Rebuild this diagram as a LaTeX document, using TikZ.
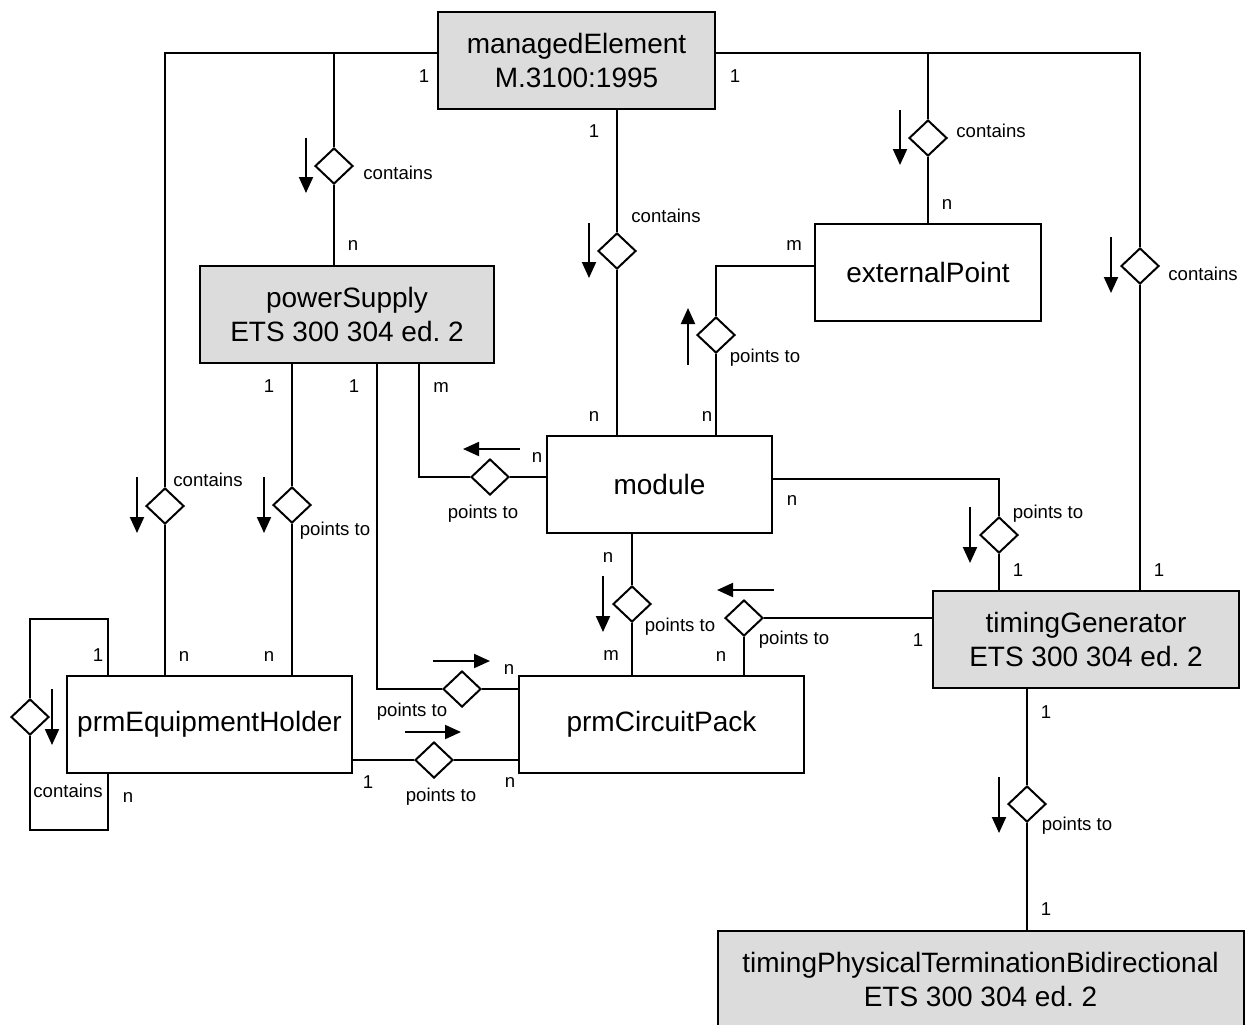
\documentclass[tikz,border=0pt]{standalone}
\usepackage{fontspec}
\setmainfont{Liberation Sans}
\usetikzlibrary{shapes.geometric,arrows.meta}
\definecolor{boxgray}{RGB}{220,220,220}
\begin{document}
\begin{tikzpicture}[x=0.5pt,y=-0.5pt,
  line width=1pt,
  entity/.style={draw,minimum height=48.5pt,inner sep=0pt,align=center,
    font=\fontsize{14pt}{17pt}\selectfont},
  stdentity/.style={entity,fill=boxgray},
  rel/.style={shape=diamond,draw,fill=white,minimum width=19pt,
    minimum height=18pt,inner sep=0pt},
  lbl/.style={font=\fontsize{9.3pt}{11pt}\selectfont,inner sep=0pt},
  dirarrow/.style={-{Triangle[length=8pt,width=7pt]}},
]
\useasboundingbox (0,0) rectangle (1246,1024);
\clip (0,0) rectangle (1246,1024);
\fill[white] (0,0) rectangle (1246,1024);

% ---- managed object classes ----
\node[stdentity,minimum width=138.5pt] (ME) at (576.5,60.5) {managedElement\\M.3100:1995};
\node[stdentity,minimum width=147pt] (PS) at (347,314.5) {powerSupply\\ETS 300 304 ed.\ 2};
\node[entity,minimum width=113pt] (EP) at (928,272.5) {externalPoint};
\node[entity,minimum width=112.5pt] (MOD) at (659.5,484.5) {module};
\node[stdentity,minimum width=153pt] (TG) at (1086,639.5) {timingGenerator\\ETS 300 304 ed.\ 2};
\node[entity,minimum width=142.5pt] (PEH) at (209.5,724.5) {prmEquipmentHolder};
\node[entity,minimum width=142.5pt] (PCP) at (661.5,724.5) {prmCircuitPack};
\node[stdentity,minimum width=263pt] (TPT) at (980.5,979.5) {timingPhysicalTerminationBidirectional\\ETS 300 304 ed.\ 2};

% ---- relationship diamonds ----
\node[rel] (dPS) at (334,166) {};
\node[rel] (dEP) at (928,138) {};
\node[rel] (dTG) at (1140,266) {};
\node[rel] (dMOD) at (617,251) {};
\node[rel] (dMEP) at (716,335) {};
\node[rel] (dMPS) at (490,477) {};
\node[rel] (dMTG) at (999,535) {};
\node[rel] (dMPC) at (632,604) {};
\node[rel] (dTPC) at (744,618) {};
\node[rel] (dPSPC) at (462,689) {};
\node[rel] (dPEPC) at (434,760) {};
\node[rel] (dSelf) at (30,717) {};
\node[rel] (dPSPE) at (292,505) {};
\node[rel] (dPEH) at (165,506) {};
\node[rel] (dTPT) at (1027,804) {};

% ---- bends of the connectors ----
\coordinate (jL) at (165,53);
\coordinate (jPS) at (334,53);
\coordinate (jEP) at (928,53);
\coordinate (jR) at (1140,53);
\coordinate (kEP) at (716,266);
\coordinate (kPS) at (419,477);
\coordinate (kTG) at (999,479);
\coordinate (kPC) at (377,689);
\coordinate (s1) at (108,619);
\coordinate (s2) at (30,619);
\coordinate (s3) at (30,830);
\coordinate (s4) at (108,830);

% ---- connectors ----
\draw (ME.west |- jL) -- (jL) -- (dPEH.north);
\draw (dPEH.south) -- (dPEH.south |- PEH.north);
\draw (jPS) -- (dPS.north);
\draw (dPS.south) -- (dPS.south |- PS.north);
\draw (ME.east |- jR) -- (jR) -- (dTG.north);
\draw (dTG.south) -- (dTG.south |- TG.north);
\draw (jEP) -- (dEP.north);
\draw (dEP.south) -- (dEP.south |- EP.north);
\draw (dMOD.north |- ME.south) -- (dMOD.north);
\draw (dMOD.south) -- (dMOD.south |- MOD.north);
\draw (dMEP.south |- MOD.north) -- (dMEP.south);
\draw (dMEP.north) -- (kEP) -- (EP.west |- kEP);
\draw (MOD.west |- dMPS) -- (dMPS.east);
\draw (dMPS.west) -- (kPS) -- (kPS |- PS.south);
\draw (MOD.east |- kTG) -- (kTG) -- (dMTG.north);
\draw (dMTG.south) -- (dMTG.south |- TG.north);
\draw (dMPC.north |- MOD.south) -- (dMPC.north);
\draw (dMPC.south) -- (dMPC.south |- PCP.north);
\draw (TG.west |- dTPC) -- (dTPC.east);
\draw (dTPC.south) -- (dTPC.south |- PCP.north);
\draw (kPC |- PS.south) -- (kPC) -- (dPSPC.west);
\draw (dPSPC.east) -- (PCP.west |- dPSPC);
\draw (PEH.east |- dPEPC) -- (dPEPC.west);
\draw (dPEPC.east) -- (PCP.west |- dPEPC);
\draw (s1 |- PEH.north) -- (s1) -- (s2) -- (dSelf.north);
\draw (dSelf.south) -- (s3) -- (s4) -- (s4 |- PEH.south);
\draw (dPSPE.north |- PS.south) -- (dPSPE.north);
\draw (dPSPE.south) -- (dPSPE.south |- PEH.north);
\draw (dTPT.north |- TG.south) -- (dTPT.north);
\draw (dTPT.south) -- (dTPT.south |- TPT.north);

% ---- reading direction arrows ----
\draw[dirarrow] ([shift={(-28,-28)}]dPS.center) -- ++(0,55);
\draw[dirarrow] ([shift={(-28,-28)}]dMOD.center) -- ++(0,55);
\draw[dirarrow] ([shift={(-28,-28)}]dEP.center) -- ++(0,55);
\draw[dirarrow] ([shift={(-29,-29)}]dTG.center) -- ++(0,56);
\draw[dirarrow] ([shift={(-28,30)}]dMEP.center) -- ++(0,-57);
\draw[dirarrow] ([shift={(30,-28)}]dMPS.center) -- ++(-57,0);
\draw[dirarrow] ([shift={(-28,-29)}]dPEH.center) -- ++(0,56);
\draw[dirarrow] ([shift={(-28,-28)}]dPSPE.center) -- ++(0,56);
\draw[dirarrow] ([shift={(-29,-28)}]dMTG.center) -- ++(0,56);
\draw[dirarrow] ([shift={(-29,-28)}]dMPC.center) -- ++(0,56);
\draw[dirarrow] ([shift={(30,-28)}]dTPC.center) -- ++(-57,0);
\draw[dirarrow] ([shift={(-29,-28)}]dPSPC.center) -- ++(57,0);
\draw[dirarrow] ([shift={(-29,-28)}]dPEPC.center) -- ++(56,0);
\draw[dirarrow] ([shift={(22,-28)}]dSelf.center) -- ++(0,56);
\draw[dirarrow] ([shift={(-28,-27)}]dTPT.center) -- ++(0,56);

% ---- cardinalities and role names ----
\node[lbl] (c1) at (424,76) {1};
\node[lbl] (c2) at (735,76) {1};
\node[lbl] (c3) at (594,131) {1};
\node[lbl] (r1) at (398,173) {contains};
\node[lbl] (c4) at (353,245) {n};
\node[lbl] (r2) at (666,216) {contains};
\node[lbl] (r3) at (991,131) {contains};
\node[lbl] (c5) at (947,204) {n};
\node[lbl] (c6) at (794,245) {m};
\node[lbl] (r4) at (765,358) {points to};
\node[lbl] (r5) at (1203,274) {contains};
\node[lbl] (c7) at (594,416) {n};
\node[lbl] (c8) at (707,416) {n};
\node[lbl] (c9) at (269,386) {1};
\node[lbl] (c10) at (354,386) {1};
\node[lbl] (c11) at (441,387) {m};
\node[lbl] (c12) at (537,457) {n};
\node[lbl] (r6) at (483,514) {points to};
\node[lbl] (c13) at (792,500) {n};
\node[lbl] (r7) at (1048,514) {points to};
\node[lbl] (r8) at (208,480) {contains};
\node[lbl] (r9) at (335,531) {points to};
\node[lbl] (c14) at (608,557) {n};
\node[lbl] (r10) at (680,627) {points to};
\node[lbl] (c15) at (1018,570) {1};
\node[lbl] (c16) at (1159,570) {1};
\node[lbl] (r11) at (794,640) {points to};
\node[lbl] (c17) at (918,640) {1};
\node[lbl] (c18) at (98,655) {1};
\node[lbl] (c19) at (184,656) {n};
\node[lbl] (c20) at (269,656) {n};
\node[lbl] (c21) at (611,655) {m};
\node[lbl] (c22) at (721,656) {n};
\node[lbl] (c23) at (509,669) {n};
\node[lbl] (r12) at (412,712) {points to};
\node[lbl] (c24) at (368,782) {1};
\node[lbl] (r13) at (441,797) {points to};
\node[lbl] (c25) at (510,782) {n};
\node[lbl] (r14) at (68,791) {contains};
\node[lbl] (c26) at (128,797) {n};
\node[lbl] (c27) at (1046,712) {1};
\node[lbl] (r15) at (1077,826) {points to};
\node[lbl] (c28) at (1046,909) {1};
\end{tikzpicture}
\end{document}
